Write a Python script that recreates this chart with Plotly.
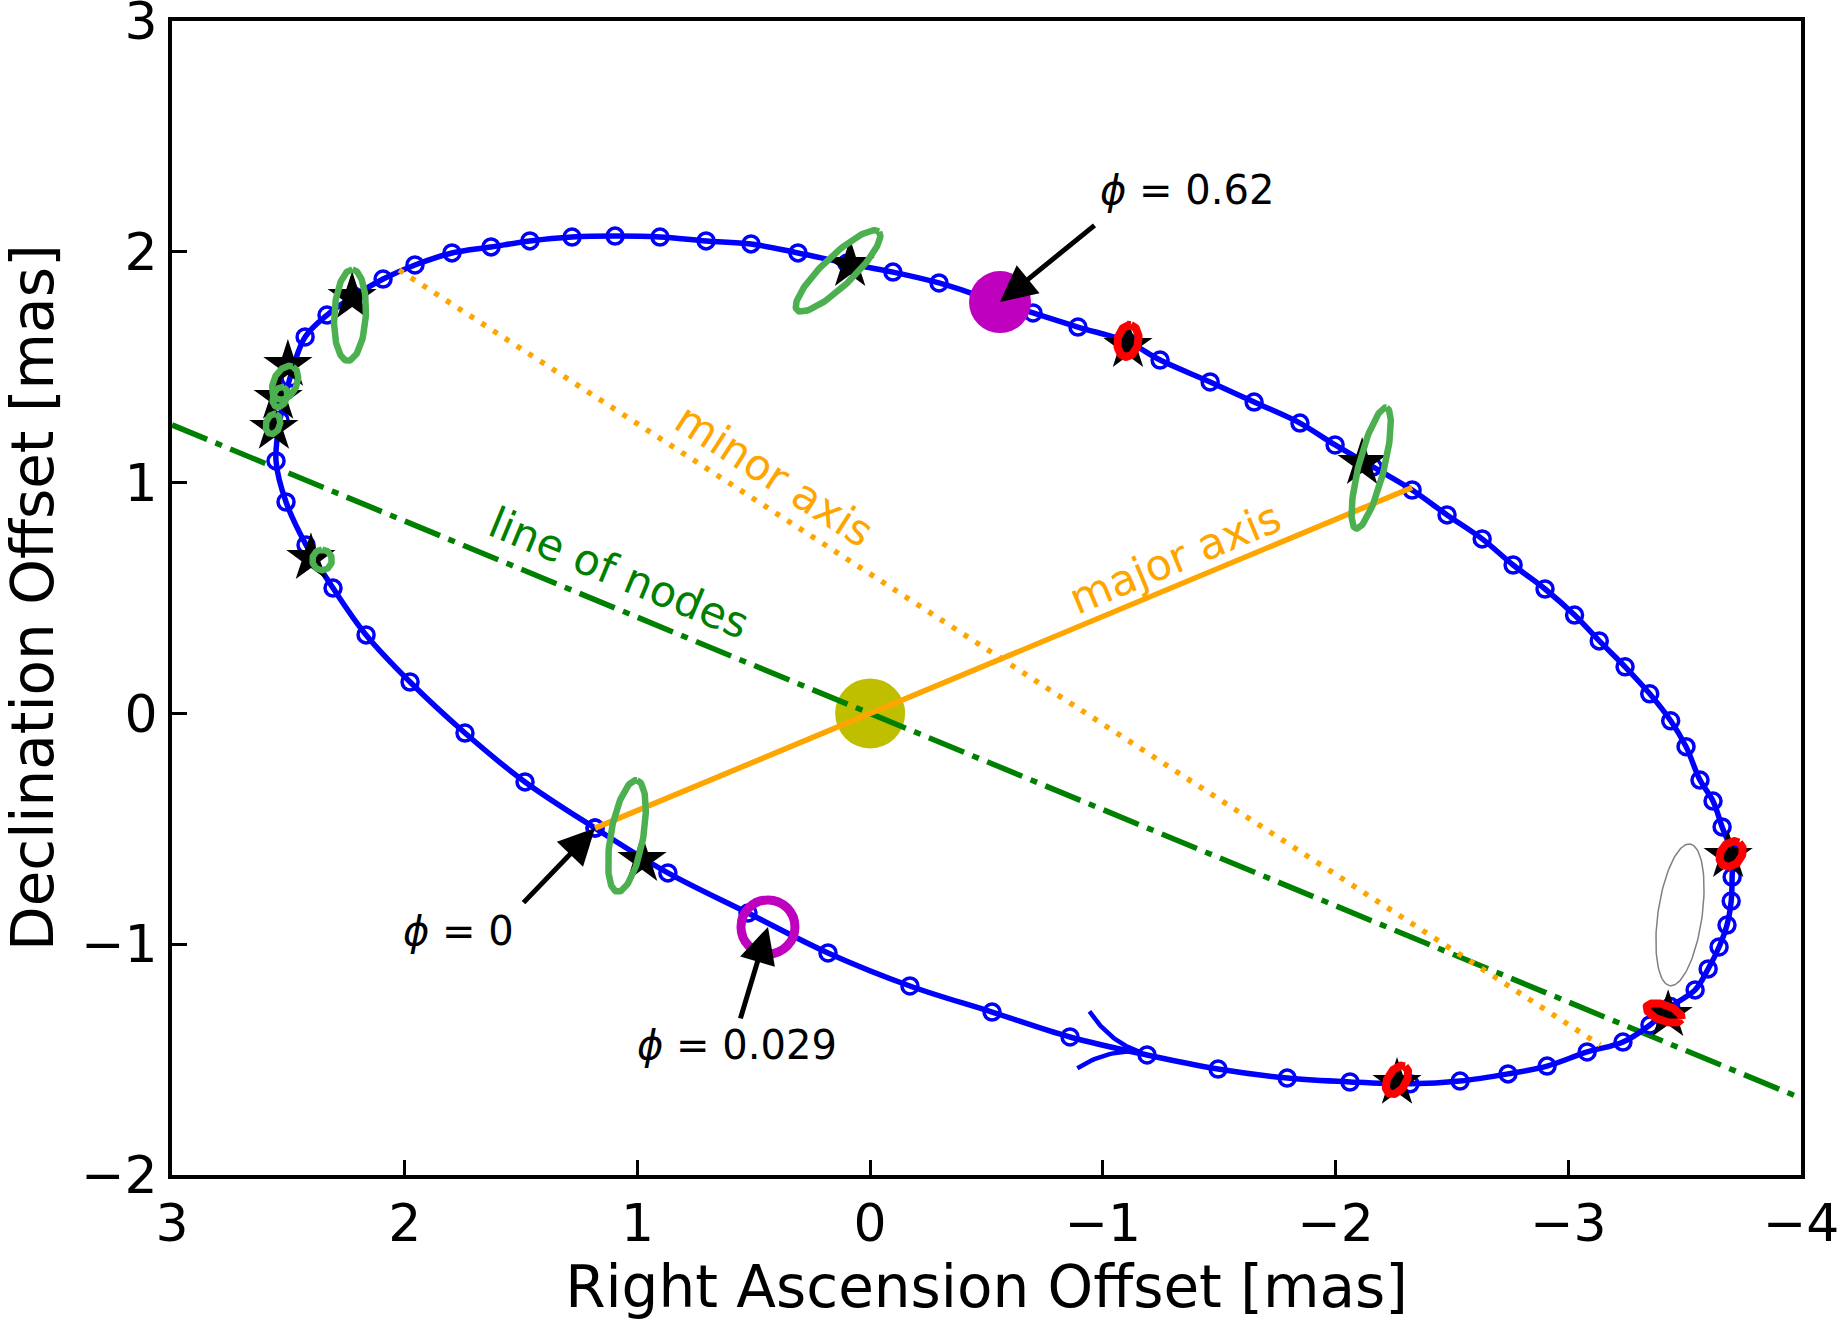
import numpy as np
import plotly.graph_objects as go

# ---------------- data ----------------
# Orbit sample positions (open blue circles), in order of motion starting at phi = 0
orbit_ra = [1.182, 0.869, 0.525, 0.181, -0.171, -0.524, -0.859, -1.190, -1.495, -1.792,
            -2.062, -2.320, -2.535, -2.741, -2.909, -3.081, -3.235, -3.351, -3.440, -3.545,
            -3.601, -3.648, -3.682, -3.700, -3.704, -3.704, -3.661, -3.622, -3.566, -3.506,
            -3.440, -3.350, -3.244, -3.133, -3.027, -2.900, -2.763, -2.630, -2.479, -2.329,
            -2.161, -1.998, -1.847, -1.650, -1.461, -1.246, -1.108, -0.893, -0.700, -0.498,
            -0.296, -0.098, 0.100, 0.310, 0.512, 0.705, 0.903, 1.096, 1.281, 1.462,
            1.629, 1.797, 1.956, 2.093, 2.218, 2.334, 2.428, 2.493, 2.536, 2.553,
            2.510, 2.424, 2.308, 2.166, 1.977, 1.741, 1.483]
orbit_dec = [-0.497, -0.691, -0.865, -1.038, -1.181, -1.294, -1.402, -1.480, -1.541, -1.580,
             -1.597, -1.605, -1.593, -1.562, -1.528, -1.467, -1.424, -1.350, -1.270, -1.198,
             -1.107, -1.012, -0.917, -0.813, -0.709, -0.609, -0.492, -0.380, -0.289, -0.144,
             -0.032, 0.085, 0.202, 0.314, 0.426, 0.539, 0.643, 0.756, 0.860, 0.968,
             1.068, 1.163, 1.258, 1.349, 1.436, 1.531, 1.609, 1.674, 1.735, 1.800,
             1.865, 1.912, 1.950, 1.995, 2.034, 2.047, 2.064, 2.068, 2.064, 2.047,
             2.021, 1.995, 1.943, 1.882, 1.808, 1.726, 1.631, 1.453, 1.271, 1.094,
             0.916, 0.730, 0.543, 0.340, 0.136, -0.085, -0.297]

# Observed positions (black stars)
star_ra = [0.086, -1.108, -2.114, -3.687, -3.429, -2.264, 0.980, 2.226, 2.502, 2.544, 2.562, 2.403]
star_dec = [1.943, 1.592, 1.085, -0.618, -1.307, -1.601, -0.635, 1.804, 1.510, 1.367, 1.237, 0.673]

# Error ellipses: centre, semi-major, semi-minor (mas), tilt of major axis from vertical (deg, top towards -RA)
green_ra = [0.138, -2.153, 1.045, 2.235, 2.514, 2.536, 2.566, 2.355]
green_dec = [1.917, 1.063, -0.531, 1.726, 1.432, 1.371, 1.254, 0.665]
green_a = [0.245, 0.270, 0.245, 0.198, 0.078, 0.045, 0.045, 0.045]
green_b = [0.065, 0.055, 0.070, 0.068, 0.050, 0.030, 0.030, 0.042]
green_tilt = [46, 14, 10, 3, 25, 20, 15, 0]

red_ra = [-1.108, -3.700, -3.412, -2.264]
red_dec = [1.614, -0.609, -1.298, -1.588]
red_a = [0.070, 0.060, 0.080, 0.068]
red_b = [0.045, 0.045, 0.035, 0.040]
red_tilt = [10, 35, 110, 30]

grey_ra = [-3.480]
grey_dec = [-0.873]
grey_a = [0.310]
grey_b = [0.095]
grey_tilt = [8]

# Special points
primary_ra, primary_dec = [0.0], [0.0]
phi062_ra, phi062_dec = [-0.558], [1.782]
phi0029_ra, phi0029_dec = [0.439], [-0.925]

# direction-of-motion chevron (tip position on the orbit)
chevron_ra, chevron_dec = [-1.160], [-1.467]

# Axes of the orbit
major_ra = [1.182, 0.0, -2.329]
major_dec = [-0.497, 0.0, 0.979]
minor_ra = [2.024, -3.137]
minor_dec = [1.921, -1.437]
nodes_ra = [3.0, 0.0, -4.0]
nodes_dec = [1.250, 0.0, -1.667]

x_ticks = [3, 2, 1, 0, -1, -2, -3, -4]
y_ticks = [-2, -1, 0, 1, 2, 3]

FONT = "DejaVu Sans"
PX_X = 1629 / 7.0   # pixels per mas (x)
PX_Y = 1154 / 5.0   # pixels per mas (y)


def ellipse_xy(cx, cy, a, b, tilt_deg, n=120):
    t = np.linspace(0, 2 * np.pi, n)
    th = np.deg2rad(tilt_deg)
    right = a * np.cos(t) * np.sin(th) + b * np.sin(t) * np.cos(th)
    up = a * np.cos(t) * np.cos(th) - b * np.sin(t) * np.sin(th)
    return cx - right, cy + up


def chevron_wings(tx, ty, fx, fy, L=58, W=29):
    """Curved open arrow head at (tx,ty) pointing from (fx,fy) towards the tip; sizes in px."""
    dxp = -(tx - fx) * PX_X
    dyp = (ty - fy) * PX_Y
    nrm = np.hypot(dxp, dyp)
    d = np.array([dxp, dyp]) / nrm          # screen (right, up)
    n = np.array([-d[1], d[0]])
    wings = []
    s = np.linspace(0, 1, 30)
    for sg in (1, -1):
        E = -L * d + sg * W * n
        C = -0.55 * L * d + sg * 0.12 * W * n
        T = np.zeros(2)
        P = ((1 - s) ** 2)[:, None] * E + (2 * (1 - s) * s)[:, None] * C + (s ** 2)[:, None] * T
        wings.append((tx - P[:, 0] / PX_X, ty + P[:, 1] / PX_Y))
    return wings


fig = go.Figure()

# primary star
fig.add_trace(go.Scatter(x=primary_ra, y=primary_dec, mode="markers",
                         marker=dict(size=70, color="#bfbf00"), hoverinfo="skip"))
# line of nodes
fig.add_trace(go.Scatter(x=nodes_ra, y=nodes_dec, mode="lines",
                         line=dict(color="green", width=5.5, dash="38px,9px,7px,9px")))
# orbit
fig.add_trace(go.Scatter(x=orbit_ra + orbit_ra[:1], y=orbit_dec + orbit_dec[:1],
                         mode="lines+markers",
                         line=dict(color="blue", width=5.5, shape="spline", smoothing=1.0),
                         marker=dict(symbol="circle-open", size=16, color="blue",
                                     line=dict(width=3.5, color="blue"))))
# chevron showing the direction of motion
for wx, wy in chevron_wings(chevron_ra[0], chevron_dec[0], orbit_ra[6], orbit_dec[6]):
    fig.add_trace(go.Scatter(x=wx, y=wy, mode="lines", line=dict(color="blue", width=4.5)))

# major / minor axes
fig.add_trace(go.Scatter(x=major_ra, y=major_dec, mode="lines",
                         line=dict(color="orange", width=5.5)))
fig.add_trace(go.Scatter(x=minor_ra, y=minor_dec, mode="lines",
                         line=dict(color="orange", width=5.5, dash="5px,9px")))
# observed stars
fig.add_trace(go.Scatter(x=star_ra, y=star_dec, mode="markers",
                         marker=dict(symbol="star", size=37, color="black")))

# ellipses
for cx, cy, a, b, tl in zip(green_ra, green_dec, green_a, green_b, green_tilt):
    ex, ey = ellipse_xy(cx, cy, a, b, tl)
    fig.add_trace(go.Scatter(x=ex, y=ey, mode="lines", line=dict(color="#4caf50", width=6.5)))
for cx, cy, a, b, tl in zip(red_ra, red_dec, red_a, red_b, red_tilt):
    ex, ey = ellipse_xy(cx, cy, a, b, tl)
    fig.add_trace(go.Scatter(x=ex, y=ey, mode="lines", line=dict(color="red", width=8)))
for cx, cy, a, b, tl in zip(grey_ra, grey_dec, grey_a, grey_b, grey_tilt):
    ex, ey = ellipse_xy(cx, cy, a, b, tl)
    fig.add_trace(go.Scatter(x=ex, y=ey, mode="lines", line=dict(color="grey", width=1.5)))

# phase markers
fig.add_trace(go.Scatter(x=phi062_ra, y=phi062_dec, mode="markers",
                         marker=dict(size=62, color="#bf00bf")))
fig.add_trace(go.Scatter(x=phi0029_ra, y=phi0029_dec, mode="markers",
                         marker=dict(symbol="circle-open", size=54, color="#bf00bf",
                                     line=dict(width=9, color="#bf00bf"))))

# text labels along the axes lines
labels = [
    ("minor axis", 0.413, 1.033, 32.8, "orange"),
    ("major axis", -1.310, 0.673, -22.6, "orange"),
    ("line of nodes", 1.079, 0.608, 22.5, "green"),
]
for txt, lx, ly, ang, col in labels:
    fig.add_annotation(x=lx, y=ly, text=txt, showarrow=False, textangle=ang,
                       xanchor="center", yanchor="middle",
                       font=dict(family=FONT, size=43, color=col))

# phase annotations: text + arrow
phase_text = [("<i>ϕ</i> = 0.62", -1.362, 2.268),
              ("<i>ϕ</i> = 0", 1.771, -0.943),
              ("<i>ϕ</i> = 0.029", 0.572, -1.437)]
for txt, lx, ly in phase_text:
    fig.add_annotation(x=lx, y=ly, text=txt, showarrow=False, xanchor="center",
                       yanchor="middle", font=dict(family=FONT, size=40, color="black"))

arrow_tips = [(phi062_ra[0], phi062_dec[0], 96, -78),
              (orbit_ra[0], orbit_dec[0], -73, 76),
              (phi0029_ra[0], phi0029_dec[0], -28, 93)]
for tx, ty, axp, ayp in arrow_tips:
    fig.add_annotation(x=tx, y=ty, ax=axp, ay=ayp, text="", showarrow=True,
                       arrowhead=2, arrowsize=1.45, arrowwidth=5, arrowcolor="black",
                       standoff=0, startstandoff=0)

# y-axis title placed as a rotated annotation so it can sit close to the page edge
fig.add_annotation(text="Declination Offset [mas]", xref="paper", yref="paper",
                   x=0, y=0.5, xanchor="center", yanchor="middle", xshift=-139,
                   textangle=-90, showarrow=False,
                   font=dict(family=FONT, size=58, color="black"))

axis_common = dict(showline=True, mirror=True, linewidth=4, linecolor="black",
                   ticks="inside", ticklen=15, tickwidth=3, tickcolor="black",
                   showgrid=False, zeroline=False, automargin=False,
                   ticklabeloverflow="allow",
                   tickfont=dict(family=FONT, size=52, color="black"))

fig.update_layout(
    width=1841, height=1322,
    margin=dict(l=172, r=40, t=21, b=147, autoexpand=False),
    paper_bgcolor="white", plot_bgcolor="white",
    showlegend=False,
    xaxis=dict(range=[3, -4], tickvals=x_ticks, **axis_common,
               title=dict(text="Right Ascension Offset [mas]",
                          font=dict(family=FONT, size=58, color="black"), standoff=12)),
    yaxis=dict(range=[-2, 3], tickvals=y_ticks, **axis_common),
)

fig.write_html("out.html")
